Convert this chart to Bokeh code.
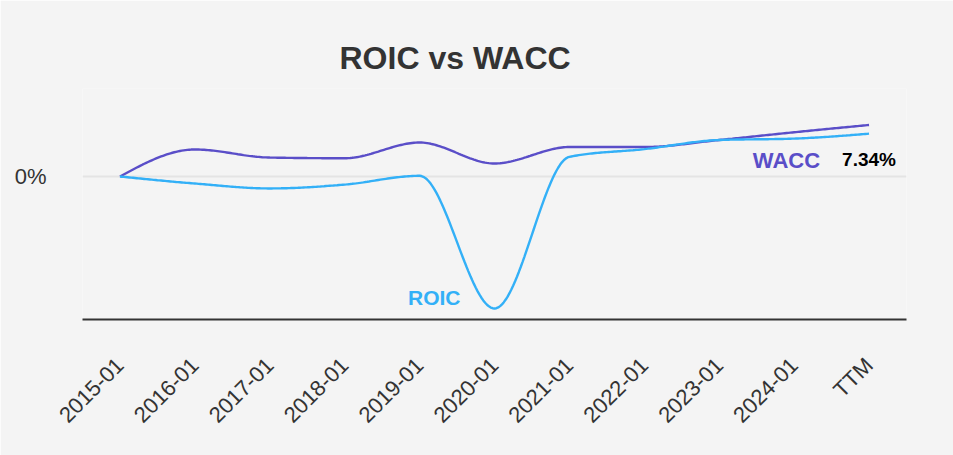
import numpy as np
from bokeh.plotting import figure
from bokeh.models import Range1d, FixedTicker, Label
from bokeh.embed import file_html
from bokeh.resources import INLINE

# ---- data ----
categories = ["2015-01", "2016-01", "2017-01", "2018-01", "2019-01", "2020-01",
              "2021-01", "2022-01", "2023-01", "2024-01", "TTM"]
roic = [0.0, -1.0, -1.7, -1.15, 0.1, -18.8, 2.8, 3.9, 5.2, 5.4, 6.1]
wacc = [0.0, 3.85, 2.7, 2.6, 4.84, 1.85, 4.2, 4.2, 5.2, 6.3, 7.34]
y_tick_values = [0]
y_tick_labels = ["0%"]

WACC_COLOR = "#5a4ec8"
ROIC_COLOR = "#33b0f7"
BG = "#f4f4f4"
FONT = "Liberation Sans"


def monotone_curve(ys, samples=40):
    """Monotone cubic (d3 curveMonotoneX style) through equally spaced points."""
    y = np.asarray(ys, dtype=float)
    n = len(y)
    x = np.arange(n, dtype=float)
    t = np.zeros(n)
    for i in range(1, n - 1):
        s0 = y[i] - y[i - 1]
        s1 = y[i + 1] - y[i]
        p = (s0 + s1) / 2.0
        t[i] = (np.sign(s0) + np.sign(s1)) * min(abs(s0), abs(s1), 0.5 * abs(p))
    t[0] = (3 * (y[1] - y[0]) - t[1]) / 2.0
    t[-1] = (3 * (y[-1] - y[-2]) - t[-2]) / 2.0
    xs, yv = [], []
    for i in range(n - 1):
        u = np.linspace(0, 1, samples, endpoint=(i == n - 2))
        h00 = 2 * u**3 - 3 * u**2 + 1
        h10 = u**3 - 2 * u**2 + u
        h01 = -2 * u**3 + 3 * u**2
        h11 = u**3 - u**2
        xs.extend(x[i] + u)
        yv.extend(h00 * y[i] + h10 * t[i] + h01 * y[i + 1] + h11 * t[i + 1])
    return np.array(xs), np.array(yv)


px_per_pct = 7.02
y_start = -143 / px_per_pct
y_end = 88 / px_per_pct

p = figure(width=953, height=455, output_backend="svg", toolbar_location=None,
           x_range=Range1d(-0.5, len(categories) - 0.5),
           y_range=Range1d(y_start, y_end),
           min_border_left=82, min_border_right=47,
           min_border_top=88, min_border_bottom=136)

p.background_fill_color = BG
p.border_fill_color = BG
p.outline_line_color = None

# title
p.title.text = "ROIC vs WACC"
p.title.text_font = FONT
p.title.text_font_size = "32px"
p.title.text_font_style = "bold"
p.title.text_color = "#333333"
p.title.align = "left"
p.title.offset = 257
p.title.standoff = 26

# x axis
p.xaxis.ticker = FixedTicker(ticks=list(range(len(categories))))
p.xaxis.major_label_overrides = {i: c for i, c in enumerate(categories)}
p.xaxis.major_label_orientation = np.pi / 4
p.xaxis.major_label_text_font = FONT
p.xaxis.major_label_text_font_size = "22px"
p.xaxis.major_label_text_color = "#333333"
p.xaxis.major_label_standoff = 36
p.xaxis.axis_line_color = "#333333"
p.xaxis.axis_line_width = 2
p.xaxis.major_tick_line_color = None
p.xaxis.minor_tick_line_color = None

# y axis
p.yaxis.ticker = FixedTicker(ticks=y_tick_values)
p.yaxis.major_label_overrides = dict(zip(y_tick_values, y_tick_labels))
p.yaxis.major_label_text_font = FONT
p.yaxis.major_label_text_font_size = "22px"
p.yaxis.major_label_text_color = "#333333"
p.yaxis.major_label_standoff = 30
p.yaxis.axis_line_color = None
p.yaxis.major_tick_line_color = None
p.yaxis.minor_tick_line_color = None

p.xgrid.grid_line_color = None
p.ygrid.ticker = FixedTicker(ticks=y_tick_values)
p.ygrid.grid_line_color = "#e4e4e4"
p.ygrid.grid_line_width = 2

# lines
wx, wy = monotone_curve(wacc)
rx, ry = monotone_curve(roic)
p.line(x=wx, y=wy, line_color=WACC_COLOR, line_width=2.4)
p.line(x=rx, y=ry, line_color=ROIC_COLOR, line_width=2.4)

# labels
last = len(categories) - 1
p.add_layout(Label(x=last, y=wacc[-1], text=f"{wacc[-1]:.2f}%", text_align="center",
                   text_baseline="alphabetic", y_offset=-35, text_font=FONT,
                   text_font_size="19px", text_font_style="bold", text_color="#000000"))
p.add_layout(Label(x=last, y=wacc[-1], text="WACC", text_align="right",
                   text_baseline="alphabetic", x_offset=-49, y_offset=-36, text_font=FONT,
                   text_font_size="22px", text_font_style="bold", text_color=WACC_COLOR))
imin = int(np.argmin(roic))
p.add_layout(Label(x=imin, y=roic[imin], text="ROIC", text_align="right",
                   text_baseline="alphabetic", x_offset=-34, y_offset=11, text_font=FONT,
                   text_font_size="21px", text_font_style="bold", text_color=ROIC_COLOR))

open("out.html", "w").write(file_html(p, INLINE))
